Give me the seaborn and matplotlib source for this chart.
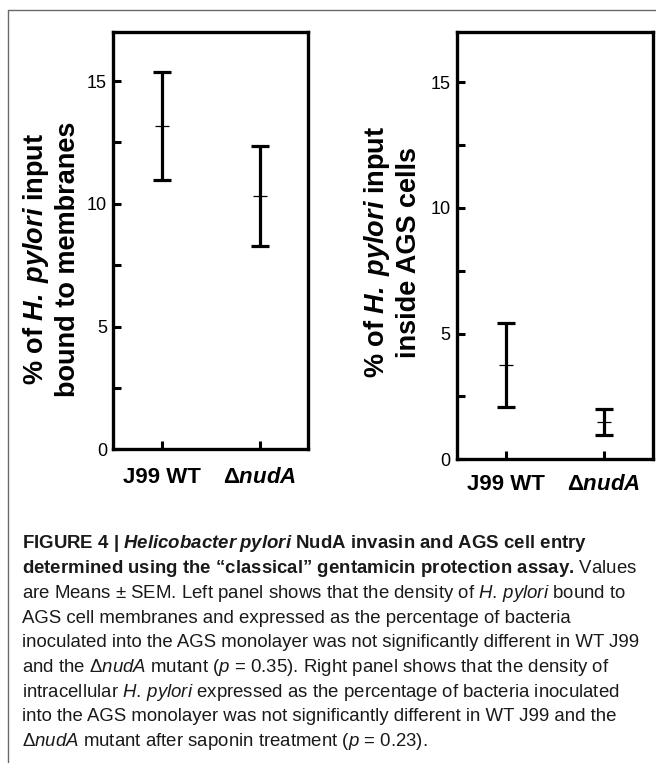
import matplotlib
matplotlib.use("Agg")
import matplotlib.pyplot as plt
import seaborn as sns
import numpy as np
import pandas as pd
from matplotlib.lines import Line2D
from matplotlib.ticker import MultipleLocator

# ---------------- data ----------------
groups = ["J99 WT", "ΔnudA"]
group_labels = ["J99 WT", "Δ$\\mathbfit{nudA}$"]

membrane_mean = [13.18, 10.31]
membrane_sem = [2.19, 2.04]

inside_mean = [3.75, 1.47]
inside_sem = [1.68, 0.52]

y_ticks = [0, 5, 10, 15]
y_tick_labels = ["0", "5", "10", "15"]

ylabel_left = "% of $\\mathbfit{H.\\;pylori}$ input\nbound to membranes"
ylabel_right = "% of $\\mathbfit{H.\\;pylori}$ input\ninside AGS cells"

caption_lines = [
    "FIGURE 4 | $\\mathbfit{Helicobacter\\;pylori}$ NudA invasin and AGS cell entry",
    "determined using the \u201cclassical\u201d gentamicin protection assay. $\\mathrm{Values}$",
    "are Means ± SEM. Left panel shows that the density of $\\mathit{H.\\,pylori}$ bound to",
    "AGS cell membranes and expressed as the percentage of bacteria",
    "inoculated into the AGS monolayer was not significantly different in WT J99",
    "and the Δ$\\mathit{nudA}$ mutant ($\\mathit{p}$ = 0.35). Right panel shows that the density of",
    "intracellular $\\mathit{H.\\,pylori}$ expressed as the percentage of bacteria inoculated",
    "into the AGS monolayer was not significantly different in WT J99 and the",
    "Δ$\\mathit{nudA}$ mutant after saponin treatment ($\\mathit{p}$ = 0.23).",
]
caption_weights = ["bold", "bold", "normal", "normal", "normal",
                   "normal", "normal", "normal", "normal"]

# ---------------- style ----------------
sns.set_theme(style="ticks")
plt.rcParams["font.family"] = ["Liberation Sans", "DejaVu Sans"]
plt.rcParams["mathtext.fontset"] = "custom"
plt.rcParams["mathtext.rm"] = "Liberation Sans"
plt.rcParams["mathtext.it"] = "Liberation Sans:italic"
plt.rcParams["mathtext.bf"] = "Liberation Sans:bold"
plt.rcParams["mathtext.bfit"] = "Liberation Sans:italic:bold"

W, H = 656, 763
fig = plt.figure(figsize=(W / 100, H / 100), dpi=100)
fig.patch.set_facecolor("white")


def px_axes(l, t, r, b):
    return fig.add_axes([l / W, 1 - b / H, (r - l) / W, (b - t) / H])


def panel(ax, means, sems, ylabel, label_xy, xpad):
    df = pd.DataFrame({"group": groups, "mean": means, "sem": sems})
    ax.errorbar(df["group"], df["mean"], yerr=df["sem"], fmt="none",
                ecolor="black", elinewidth=2.3, capsize=6.2, capthick=2.3,
                zorder=2)
    sns.scatterplot(data=df, x="group", y="mean", marker="_", s=115,
                    color="black", edgecolor="black", linewidth=0.9,
                    legend=False, ax=ax, zorder=3)
    ax.set_xlim(-0.5, 1.5)
    ax.set_ylim(0, 17)
    ax.set_facecolor("white")
    ax.set_xlabel("")
    ax.yaxis.set_major_locator(MultipleLocator(5))
    ax.yaxis.set_minor_locator(MultipleLocator(2.5))
    ax.set_yticks(y_ticks)
    ax.set_yticklabels(y_tick_labels)
    ax.set_xticks(range(len(groups)))
    ax.set_xticklabels(group_labels, fontsize=16, fontweight="bold")
    ax.tick_params(axis="both", which="both", direction="in", length=6,
                   width=2.2, color="black")
    ax.tick_params(axis="y", which="both", left=True, right=False,
                   labelsize=13, pad=4.5, labelcolor="black")
    ax.tick_params(axis="x", which="both", bottom=True, top=False,
                   pad=xpad, labelcolor="black")
    for sp in ax.spines.values():
        sp.set_visible(True)
        sp.set_linewidth(2.4)
        sp.set_color("black")
    ax.set_ylabel(ylabel, fontsize=19.5, fontweight="bold", linespacing=1.2,
                  color="black")
    ax.yaxis.set_label_coords(*label_xy)


ax1 = px_axes(113.3, 32, 308.5, 449.3)
ax2 = px_axes(456.7, 32, 653, 459.3)

panel(ax1, membrane_mean, membrane_sem, ylabel_left, (-0.165, 0.456), 13)
panel(ax2, inside_mean, inside_sem, ylabel_right, (-0.176, 0.485), 10.5)

# frame lines (top and left) of the figure panel
fig.add_artist(Line2D([8 / W, 1], [1 - 10 / H, 1 - 10 / H], color="#6a6a6a",
                      lw=1.0, transform=fig.transFigure))
fig.add_artist(Line2D([8 / W, 8 / W], [1 - 10 / H, 0], color="#6a6a6a",
                      lw=1.0, transform=fig.transFigure))

# caption
first_baseline = 548.5
step = 24.7
for i, (line, wt) in enumerate(zip(caption_lines, caption_weights)):
    y = first_baseline + i * step
    fig.text(22 / W, 1 - y / H, line, fontsize=13.4, fontweight=wt,
             color="#1a1a1a", ha="left", va="baseline")

fig.savefig("out.png", dpi=100, facecolor="white")
